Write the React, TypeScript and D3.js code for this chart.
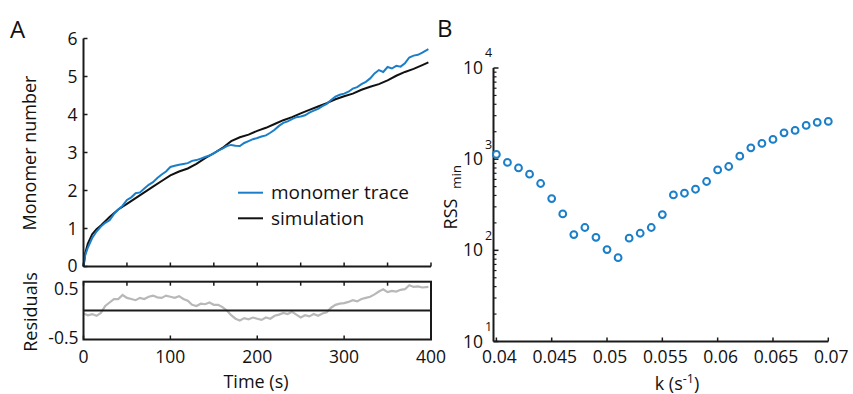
import React from "react";
import * as d3 from "d3";

// ---------- Data ----------
const simTime = [0, 2, 5, 10, 15, 20, 30, 40, 50, 60, 70, 80, 90, 100, 110, 120, 130, 140, 150, 160, 170, 180, 190, 200, 210, 220, 230, 240, 250, 260, 270, 280, 290, 300, 310, 320, 330, 340, 350, 360, 370, 380, 390, 397];
const simValue = [0, 0.35, 0.6, 0.85, 0.98, 1.08, 1.3, 1.5, 1.65, 1.8, 1.95, 2.1, 2.25, 2.4, 2.5, 2.58, 2.7, 2.85, 2.98, 3.12, 3.3, 3.4, 3.47, 3.57, 3.65, 3.75, 3.85, 3.93, 4.03, 4.12, 4.21, 4.3, 4.4, 4.48, 4.55, 4.65, 4.73, 4.8, 4.9, 5.02, 5.12, 5.2, 5.3, 5.37];

const traceTime = [0, 2, 5, 10, 15, 20, 25, 30, 35, 40, 45, 50, 55, 60, 65, 70, 75, 80, 85, 90, 95, 100, 105, 110, 115, 120, 125, 130, 135, 140, 145, 150, 155, 160, 165, 170, 175, 180, 185, 190, 195, 200, 205, 210, 215, 220, 225, 230, 235, 240, 245, 250, 255, 260, 265, 270, 275, 280, 285, 290, 295, 300, 305, 310, 315, 320, 325, 330, 335, 340, 345, 350, 355, 360, 365, 370, 375, 380, 385, 390, 397];
const traceValue = [0, 0.3, 0.5, 0.75, 0.92, 1.05, 1.15, 1.22, 1.38, 1.5, 1.6, 1.75, 1.82, 1.93, 1.95, 2.05, 2.15, 2.22, 2.33, 2.42, 2.5, 2.62, 2.65, 2.68, 2.7, 2.72, 2.78, 2.8, 2.84, 2.88, 2.92, 2.98, 3.05, 3.1, 3.17, 3.2, 3.18, 3.17, 3.25, 3.3, 3.35, 3.38, 3.42, 3.45, 3.52, 3.6, 3.7, 3.78, 3.82, 3.88, 3.93, 3.95, 3.98, 4.05, 4.1, 4.15, 4.22, 4.28, 4.38, 4.47, 4.52, 4.55, 4.6, 4.68, 4.72, 4.8, 4.86, 4.95, 5.08, 5.17, 5.12, 5.25, 5.21, 5.28, 5.26, 5.35, 5.5, 5.55, 5.57, 5.63, 5.72];

const residTime = [0, 5, 10, 15, 20, 25, 30, 35, 40, 45, 50, 55, 60, 65, 70, 75, 80, 85, 90, 95, 100, 105, 110, 115, 120, 125, 130, 135, 140, 145, 150, 155, 160, 165, 170, 175, 180, 185, 190, 195, 200, 205, 210, 215, 220, 225, 230, 235, 240, 245, 250, 255, 260, 265, 270, 275, 280, 285, 290, 295, 300, 305, 310, 315, 320, 325, 330, 335, 340, 345, 350, 355, 360, 365, 370, 375, 380, 385, 390, 397];
const residValue = [-0.05, -0.08, -0.06, -0.09, -0.04, 0.08, 0.14, 0.2, 0.2, 0.27, 0.22, 0.2, 0.18, 0.22, 0.2, 0.24, 0.26, 0.23, 0.22, 0.26, 0.24, 0.22, 0.25, 0.2, 0.17, 0.1, 0.08, 0.12, 0.11, 0.14, 0.1, 0.1, 0.06, 0.0, -0.08, -0.14, -0.17, -0.13, -0.15, -0.12, -0.14, -0.16, -0.12, -0.14, -0.09, -0.07, -0.04, -0.06, -0.02, -0.07, -0.12, -0.08, -0.1, -0.06, -0.09, -0.05, -0.03, 0.05, 0.1, 0.12, 0.13, 0.15, 0.18, 0.16, 0.2, 0.22, 0.24, 0.28, 0.33, 0.37, 0.32, 0.34, 0.33, 0.36, 0.37, 0.44, 0.41, 0.42, 0.4, 0.41];

const kValues = [0.04, 0.041, 0.042, 0.043, 0.044, 0.045, 0.046, 0.047, 0.048, 0.049, 0.05, 0.051, 0.052, 0.053, 0.054, 0.055, 0.056, 0.057, 0.058, 0.059, 0.06, 0.061, 0.062, 0.063, 0.064, 0.065, 0.066, 0.067, 0.068, 0.069, 0.07];
const rssValues = [1127, 920, 802, 684, 541, 370, 251, 149, 178, 139, 102, 83, 136, 154, 178, 247, 405, 423, 468, 569, 763, 831, 1079, 1331, 1488, 1645, 1946, 2066, 2345, 2531, 2595];

const aYTicks = [0, 1, 2, 3, 4, 5, 6];
const aXTopTicks = [0, 50, 100, 150, 200, 250, 300, 350, 400];
const aXLabels = [0, 100, 200, 300, 400];
const residTicks = [-0.5, 0.5];
const bXTicks = [0.04, 0.045, 0.05, 0.055, 0.06, 0.065, 0.07];
const bYExponents = [1, 2, 3, 4];

const BLUE = "#1a7fc8";
const AXIS = "#1a1a1a";
const FONT = "'Open Sans', 'DejaVu Sans', sans-serif";

export default function App() {
  const W = 853, H = 394;
  const xA = d3.scaleLinear().domain([0, 400]).range([83.5, 431]);
  const yA = d3.scaleLinear().domain([0, 6]).range([266.5, 38.5]);
  const yR = d3.scaleLinear().domain([-0.5, 0.5]).range([339.5, 281.7]);

  const xB = d3.scaleLinear().domain([0.03974, 0.07]).range([493.5, 828.3]);
  const yB = d3.scaleLog().domain([10, 10000]).range([341.5, 68]);

  const lineA = d3.line<number>().x((d, i) => xA(simTime[i])).y((d) => yA(d));
  const lineT = d3.line<number>().x((d, i) => xA(traceTime[i])).y((d) => yA(d));
  const lineR = d3.line<number>().x((d, i) => xA(residTime[i])).y((d) => yR(d));

  const minorB: number[] = [];
  for (let e = 1; e < 4; e++) for (let m = 2; m <= 9; m++) minorB.push(m * Math.pow(10, e));

  const fs = 17.5;
  const residLabelY: Record<string, number> = { "0.5": 289, "-0.5": 338 };
  return (
    <svg width={W} height={H} style={{ position: "absolute", left: 0, top: 0, background: "#fff" }} fontFamily={FONT}>
      <rect width={W} height={H} fill="#fff" />
      {/* Panel labels */}
      <text x={10} y={38} fontSize={24} fill="#111">A</text>
      <text x={437} y={37} fontSize={24} fill="#111">B</text>

      {/* ---------- Panel A top ---------- */}
      <path d={lineA(simValue) || ""} fill="none" stroke="#111" strokeWidth={2} />
      <path d={lineT(traceValue) || ""} fill="none" stroke={BLUE} strokeWidth={2} />
      {/* y axis */}
      <line x1={xA(0)} x2={xA(0)} y1={yA(6)} y2={yA(0)} stroke={AXIS} strokeWidth={2} />
      {aYTicks.map((t) => (
        <g key={"ay" + t}>
          <line x1={xA(0)} x2={xA(0) + 4} y1={yA(t)} y2={yA(t)} stroke={AXIS} strokeWidth={1.5} />
          <text x={xA(0) - 6} y={yA(t) - (t === 0 ? 0.5 : 0)} dy="0.35em" textAnchor="end" fontSize={fs} fill="#111">{t}</text>
        </g>
      ))}
      {/* x axis of top panel */}
      <line x1={xA(0)} x2={xA(400)} y1={yA(0)} y2={yA(0)} stroke={AXIS} strokeWidth={2} />
      {aXTopTicks.map((t) => (
        <line key={"axt" + t} x1={xA(t)} x2={xA(t)} y1={yA(0)} y2={yA(0) - 4} stroke={AXIS} strokeWidth={1.5} />
      ))}
      <text x={-153} y={36} transform="rotate(-90)" textAnchor="middle" fontSize={18} fill="#111">Monomer number</text>

      {/* legend */}
      <line x1={238} x2={263} y1={192.7} y2={192.7} stroke={BLUE} strokeWidth={2} />
      <text x={271} y={192.7} dy="0.35em" fontSize={19} fill="#111">monomer trace</text>
      <line x1={238} x2={263} y1={218.3} y2={218.3} stroke="#111" strokeWidth={2} />
      <text x={271} y={218.3} dy="0.35em" fontSize={19} fill="#111">simulation</text>

      {/* ---------- Residuals ---------- */}
      <path d={lineR(residValue) || ""} fill="none" stroke="#b8b8b8" strokeWidth={2.2} />
      <line x1={xA(0)} x2={xA(400)} y1={yR(0)} y2={yR(0)} stroke={AXIS} strokeWidth={2} />
      <rect x={xA(0)} y={yR(0.5)} width={xA(400) - xA(0)} height={yR(-0.5) - yR(0.5)} fill="none" stroke={AXIS} strokeWidth={2} />
      {aXTopTicks.map((t) => (
        <line key={"rt" + t} x1={xA(t)} x2={xA(t)} y1={yR(0.5)} y2={yR(0.5) + 4} stroke={AXIS} strokeWidth={1.5} />
      ))}
      {aXLabels.map((t) => (
        <g key={"rb" + t}>
          <line x1={xA(t)} x2={xA(t)} y1={yR(-0.5)} y2={yR(-0.5) - 4} stroke={AXIS} strokeWidth={1.5} />
          <text x={xA(t)} y={357} dy="0.35em" textAnchor="middle" fontSize={fs} fill="#111">{t}</text>
        </g>
      ))}
      {residTicks.map((t) => (
        <text key={"rl" + t} x={xA(0) - 5} y={residLabelY[String(t)]} dy="0.35em" textAnchor="end" fontSize={fs} fill="#111">{t}</text>
      ))}
      <text x={-312} y={37} transform="rotate(-90)" textAnchor="middle" fontSize={18} fill="#111">Residuals</text>
      <text x={256} y={382} dy="0.35em" textAnchor="middle" fontSize={18} fill="#111">Time (s)</text>

      {/* ---------- Panel B ---------- */}
      <line x1={xB.range()[0]} x2={xB.range()[0]} y1={yB(10000)} y2={yB(10)} stroke={AXIS} strokeWidth={2} />
      <line x1={xB.range()[0]} x2={xB(0.07)} y1={yB(10)} y2={yB(10)} stroke={AXIS} strokeWidth={2} />
      {minorB.map((v) => (
        <line key={"mb" + v} x1={xB.range()[0]} x2={xB.range()[0] + 3} y1={yB(v)} y2={yB(v)} stroke={AXIS} strokeWidth={1.2} />
      ))}
      {bYExponents.map((e) => (
        <g key={"by" + e}>
          <line x1={xB.range()[0]} x2={xB.range()[0] + 5} y1={yB(Math.pow(10, e))} y2={yB(Math.pow(10, e))} stroke={AXIS} strokeWidth={1.5} />
          <text x={483} y={yB(Math.pow(10, e))} dy="0.35em" textAnchor="end" fontSize={fs} fill="#111">10</text>
          <text x={485} y={yB(Math.pow(10, e)) - 15} dy="0.35em" textAnchor="start" fontSize={12.5} fill="#111">{e}</text>
        </g>
      ))}
      {bXTicks.map((t) => (
        <g key={"bx" + t}>
          <line x1={xB(t)} x2={xB(t)} y1={yB(10)} y2={yB(10) - 4} stroke={AXIS} strokeWidth={1.5} />
          <text x={xB(t) + 3} y={357} dy="0.35em" textAnchor="middle" fontSize={fs} fill="#111">{t}</text>
        </g>
      ))}
      {kValues.map((k, i) => (
        <circle key={"pt" + i} cx={xB(k)} cy={yB(rssValues[i])} r={3.4} fill="#fff" stroke={BLUE} strokeWidth={2} />
      ))}
      <text transform="translate(457,214) rotate(-90)" textAnchor="middle" fontSize={18} fill="#111">RSS</text>
      <text transform="translate(461,177) rotate(-90)" textAnchor="middle" fontSize={13.5} fill="#111">min</text>
      <text x={677} y={384} dy="0.35em" textAnchor="middle" fontSize={18} fill="#111">
        k (s<tspan fontSize={12.5} dy={-7}>-1</tspan><tspan dy={7}>)</tspan>
      </text>
    </svg>
  );
}
